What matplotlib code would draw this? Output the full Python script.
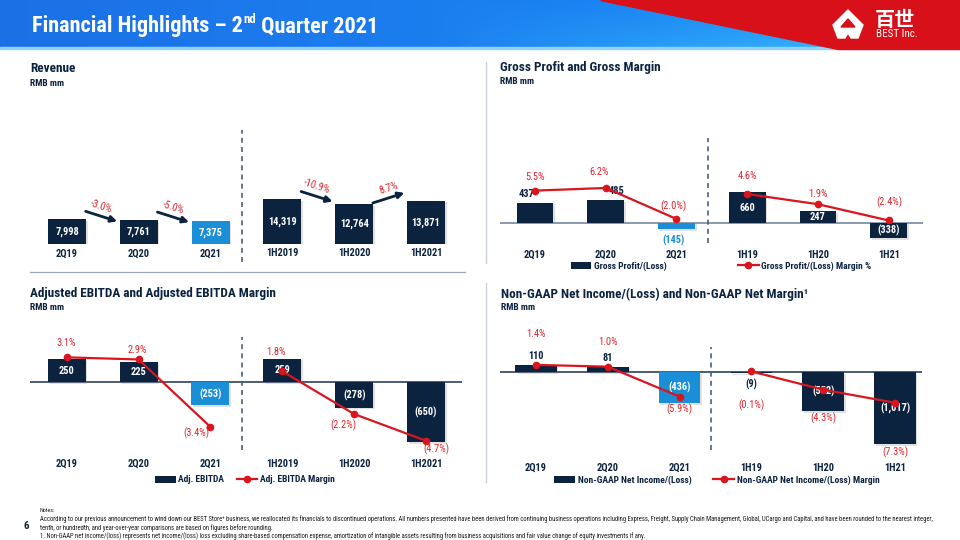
import matplotlib
matplotlib.use('Agg')
import numpy as np
import matplotlib.pyplot as plt
import matplotlib.patheffects as pe
from matplotlib.patches import Polygon, Rectangle, Patch
from matplotlib.lines import Line2D
from matplotlib import font_manager as fm

W, H = 960, 540

# ---- data (RMB mm / %) ----
quarters = ['2Q19', '2Q20', '2Q21']
halves_long = ['1H2019', '1H2020', '1H2021']
halves_short = ['1H19', '1H20', '1H21']

revenue = [7998, 7761, 7375, 14319, 12764, 13871]
revenue_growth = [-3.0, -5.0, -10.9, 8.7]   # 2Q19->2Q20, 2Q20->2Q21, 1H19->1H20, 1H20->1H21
growth_pairs = [0, 1, 3, 4]

gross_profit = [437, 485, -145, 660, 247, -338]
gross_margin = [5.5, 6.2, -2.0, 4.6, 1.9, -2.4]

adj_ebitda = [250, 225, -253, 259, -278, -650]
ebitda_margin = [3.1, 2.9, -3.4, 1.8, -2.2, -4.7]

net_income = [110, 81, -436, -9, -552, -1017]
net_margin = [1.4, 1.0, -5.9, -0.1, -4.3, -7.3]

# ---- styles ----
NAVY = '#0c2340'
LIGHT = '#1a8ed6'
RED = '#d9151d'
RED_TXT = '#e0262c'
bar_colors = [NAVY, NAVY, LIGHT, NAVY, NAVY, NAVY]

avail = {f.name for f in fm.fontManager.ttflist}
dv_cond = any(f.name == 'DejaVu Sans' and f.stretch == 'condensed' for f in fm.fontManager.ttflist)
if 'Roboto Condensed' in avail:
    plt.rcParams['font.family'] = ['Roboto Condensed', 'DejaVu Sans']
elif 'Liberation Sans Narrow' in avail:
    plt.rcParams['font.family'] = ['Liberation Sans Narrow', 'DejaVu Sans']
elif dv_cond:
    plt.rcParams['font.family'] = ['DejaVu Sans']
    plt.rcParams['font.stretch'] = 'condensed'
else:
    plt.rcParams['font.family'] = ['Roboto', 'DejaVu Sans']

shadow = [pe.SimplePatchShadow(offset=(1.2, -1.2), shadow_rgbFace='#8a8a8a', alpha=0.25), pe.Normal()]


def fmt_num(v):
    return f"{v:,}" if v >= 0 else f"({-v:,})"


def fmt_pct(v):
    return f"{v:.1f}%" if v >= 0 else f"({-v:.1f}%)"


def chart_axes(x0, x1, y0, y1, c0, step, zero, k):
    # axes placed in pixel box; limits chosen so categories/zero land where the slide has them
    ax = fig.add_axes([x0 / W, 1 - y1 / H, (x1 - x0) / W, (y1 - y0) / H], zorder=2)
    ax.set_xlim((x0 - c0) / step, (x1 - c0) / step)
    ax.set_ylim((zero - y1) / k, (zero - y0) / k)
    ax.patch.set_visible(False)
    for s in ax.spines.values():
        s.set_visible(False)
    ax.set_yticks([])
    ax.tick_params(axis='x', length=0, pad=3)
    return ax


def twin_scale(ax, y0, y1, zero, k):
    t = ax.twinx()
    t.set_ylim((zero - y1) / k, (zero - y0) / k)
    t.axis('off')
    return t


def draw_bars(ax, vals, width, labels):
    x = np.arange(len(vals))
    ax.bar(x, vals, width, color=bar_colors, zorder=2, path_effects=shadow)
    ax.set_xticks(x)
    ax.set_xticklabels(labels, fontsize=7.5, fontweight='bold', color=NAVY)
    return x


def bar_labels(ax, vals, places, dxs):
    for i, v in enumerate(vals):
        if places[i] == 'in':
            ax.text(i, v / 2, fmt_num(v), ha='center', va='center', color='white',
                    fontsize=7.5, fontweight='bold', zorder=4)
        else:
            dy = 9 if places[i] == 'above' else -11
            ax.annotate(fmt_num(v), (i, v), xytext=(dxs[i], dy), textcoords='offset pixels',
                        ha='center', va='center', color=bar_colors[i], fontsize=7.5,
                        fontweight='bold', zorder=4)


def margin_line(t, vals, offs):
    x = np.arange(len(vals))
    for seg in (slice(0, 3), slice(3, 6)):
        t.plot(x[seg], vals[seg], color=RED, lw=1.6, marker='o', ms=4.5, zorder=3)
    for i, v in enumerate(vals):
        t.annotate(fmt_pct(v), (i, v), xytext=offs[i], textcoords='offset pixels',
                   ha='center', va='center', color=RED_TXT, fontsize=7.5)


def divider(ax, ymin, ymax):
    ax.axvline(2.44, ymin, ymax, color='#4a5f7a', lw=1.2, ls=(0, (3, 2.5)), clip_on=False)


def legend(ax, bar_lbl, line_lbl, cx, cy, gap):
    h = [Patch(facecolor=NAVY, edgecolor='none'),
         Line2D([], [], color=RED, lw=1.6, marker='o', ms=4.5)]
    ax.legend(h, [bar_lbl, line_lbl], loc='center', bbox_to_anchor=(cx / W, 1 - cy / H),
              bbox_transform=fig.transFigure, ncol=2, frameon=False, borderpad=0,
              prop={'size': 6.8, 'weight': 'bold'}, labelcolor=NAVY, handlelength=2.2,
              handletextpad=0.3, columnspacing=gap)


fig = plt.figure(figsize=(9.6, 5.4), dpi=100)
canvas = fig.add_axes([0, 0, 1, 1], zorder=0)
canvas.set_xlim(0, W)
canvas.set_ylim(H, 0)
canvas.axis('off')

# ---- header band ----
gx, gy = np.meshgrid(np.linspace(0, 1, 400), np.linspace(0, 1, 40))
c_left = np.array([0.11, 0.44, 0.90])
c_right = np.array([0.10, 0.56, 0.98])
c_cyan = np.array([0.22, 0.72, 0.98])
img = c_left * (1 - gx[..., None]) + c_right * gx[..., None]
tcy = np.clip((gx - 0.45) * 2.0 * gy, 0, 1)[..., None]
img = img * (1 - tcy) + c_cyan * tcy
canvas.imshow(img, extent=(0, W, 48, 0), aspect='auto', zorder=1)
canvas.add_patch(Rectangle((0, 46.5), W, 2.5, color='#8fd2ff', zorder=1.5))
canvas.add_patch(Polygon([(600, 0), (W, 0), (W, 49), (838, 49)], closed=True, color='#d8101a', zorder=2))
canvas.add_patch(Polygon([(848, 10), (863, 25), (858, 38), (851, 38), (848, 33), (845, 38), (838, 38), (833, 25)],
                         closed=True, color='white', zorder=3))
canvas.add_patch(Polygon([(848, 19), (855, 27), (841, 27)], closed=True, color='#d8101a', zorder=3.5))
canvas.text(875, 19, '百世', family=['Noto Sans CJK SC', 'DejaVu Sans'], fontsize=14.5, fontweight='bold',
            color='white', va='center', ha='left', zorder=4)
canvas.text(876, 34, 'BEST Inc.', fontsize=8, color='white', va='center', ha='left', zorder=4)

t1 = canvas.text(32, 37, 'Financial Highlights – 2', fontsize=16.0, fontweight='bold', color='white',
                 va='bottom', ha='left', zorder=4)
t2 = canvas.annotate('nd', xy=(1, 0.5), xycoords=t1, fontsize=9.3, fontweight='bold', color='white',
                     va='bottom', ha='left', zorder=4)
canvas.annotate(' Quarter 2021', xy=(1, 0), xycoords=(t2, t1), fontsize=16.0, fontweight='bold',
                color='white', va='bottom', ha='left', zorder=4)

# ---- section titles ----
for x, y, txt in [(30, 69, 'Revenue'), (500, 68, 'Gross Profit and Gross Margin'),
                  (30, 293, 'Adjusted EBITDA and Adjusted EBITDA Margin'),
                  (501, 294, 'Non-GAAP Net Income/(Loss) and Non-GAAP Net Margin¹')]:
    canvas.text(x, y, txt, fontsize=9.5, fontweight='bold', color=NAVY, va='center', ha='left')
    canvas.text(x, y + 14, 'RMB mm', fontsize=6.8, fontweight='bold', color=NAVY, va='center', ha='left')

canvas.plot([30, 465], [272, 272], color='#9aa8ba', lw=0.9)
canvas.plot([486, 486], [62, 263], color='#c9d0d9', lw=1)
canvas.plot([486, 486], [283, 482], color='#c9d0d9', lw=1)

# ---- Revenue ----
ax = chart_axes(30, 465, 110, 244.3, 67, 71.8, 244.3, 0.00314)
draw_bars(ax, revenue, 0.53, quarters + halves_long)
bar_labels(ax, revenue, ['in'] * 6, [0] * 6)
divider(ax, -0.132, 0.851)
for i, g in zip(growth_pairs, revenue_growth):
    mid_x = i + 0.48
    mid_y = max(revenue[i], revenue[i + 1]) + 900
    rise = 1600 if g > 0 else -1600
    ax.annotate('', xy=(mid_x + 0.22, mid_y + rise), xytext=(mid_x - 0.22, mid_y - rise),
                arrowprops=dict(arrowstyle='-|>', color=NAVY, lw=2, mutation_scale=9,
                                shrinkA=0, shrinkB=0), zorder=3)
    rot = np.degrees(np.arctan2(10 if g > 0 else -10, 31))
    ax.annotate(f"{g:.1f}%", (mid_x, mid_y), xytext=(0, 10), textcoords='offset pixels',
                rotation=rot, rotation_mode='anchor', ha='center', va='center',
                color=RED_TXT, fontsize=7.5)

# ---- Gross profit ----
ax = chart_axes(500, 923, 110, 246, 535, 70.74, 222.7, 0.046)
ax.axhline(0, color='#8093aa', lw=1.3, zorder=1)
draw_bars(ax, gross_profit, 0.52, quarters + halves_short)
bar_labels(ax, gross_profit, ['above', 'above', 'below', 'in', 'in', 'in'], [-8, 11, -3, 0, 0, 0])
divider(ax, 0.022, 0.794)
t = twin_scale(ax, 110, 246, 211.4, 3.78)
margin_line(t, gross_margin, [(0, 14), (-7, 16), (-3, 13), (0, 18), (0, 10), (1, 18)])
legend(ax, 'Gross Profit/(Loss)', 'Gross Profit/(Loss) Margin %', 721, 266, 7.5)

# ---- Adjusted EBITDA ----
ax = chart_axes(30, 462, 320, 455, 66.7, 71.86, 382.3, 0.0916)
ax.axhline(0, color='#1b3050', lw=1.1, zorder=1)
draw_bars(ax, adj_ebitda, 0.53, quarters + halves_long)
bar_labels(ax, adj_ebitda, ['in'] * 6, [0] * 6)
divider(ax, 0.037, 0.876)
t = twin_scale(ax, 320, 455, 390.5, 10.7)
margin_line(t, ebitda_margin, [(0, 14), (-1, 9), (-14, -6), (-6, 19), (-11, -11), (10, -8)])
legend(ax, 'Adj. EBITDA', 'Adj. EBITDA Margin', 245, 480, 1.3)

# ---- Non-GAAP net income ----
ax = chart_axes(500, 921.7, 320, 458.5, 536, 71.8, 372.3, 0.0708)
ax.axhline(0, color='#1b3050', lw=1.1, zorder=1)
draw_bars(ax, net_income, 0.58, quarters + halves_short)
bar_labels(ax, net_income, ['above', 'above', 'in', 'below', 'in', 'in'], [0, 0, 0, 0, 0, 0])
divider(ax, 0.061, 0.807)
t = twin_scale(ax, 320, 458.5, 371, 4.35)
margin_line(t, net_margin, [(0, 31), (0, 25), (0, -13), (0, -34), (0, -29), (0, -49)])
legend(ax, 'Non-GAAP Net Income/(Loss)', 'Non-GAAP Net Income/(Loss) Margin', 717, 480, 2.3)

# ---- notes ----
notes = [
    "According to our previous announcement to wind down our BEST Store⁺ business, we reallocated its financials to "
    "discontinued operations. All numbers presented have been derived from continuing business operations including "
    "Express, Freight, Supply Chain Management, Global, UCargo and Capital, and have been rounded to the nearest integer,",
    "tenth, or hundredth, and year-over-year comparisons are based on figures before rounding.",
    "1. Non-GAAP net income/(loss) represents net income/(loss) loss excluding share-based compensation expense, "
    "amortization of intangible assets resulting from business acquisitions and fair value change of equity investments if any.",
]
canvas.text(24, 526, '6', fontsize=8, fontweight='bold', color=NAVY, va='center', ha='left')
canvas.text(40, 511, 'Notes:', fontsize=4.3, color='#1a1a1a', va='center', ha='left')
note_txt = [canvas.text(40, y, s, fontsize=4.3, color='#1a1a1a', va='center', ha='left')
            for y, s in zip([519, 528, 536], notes)]
r = fig.canvas.get_renderer()
scale = 908 / note_txt[0].get_window_extent(renderer=r).width
for tx in note_txt:
    tx.set_fontsize(4.3 * scale)

fig.savefig('out.png', dpi=100)
